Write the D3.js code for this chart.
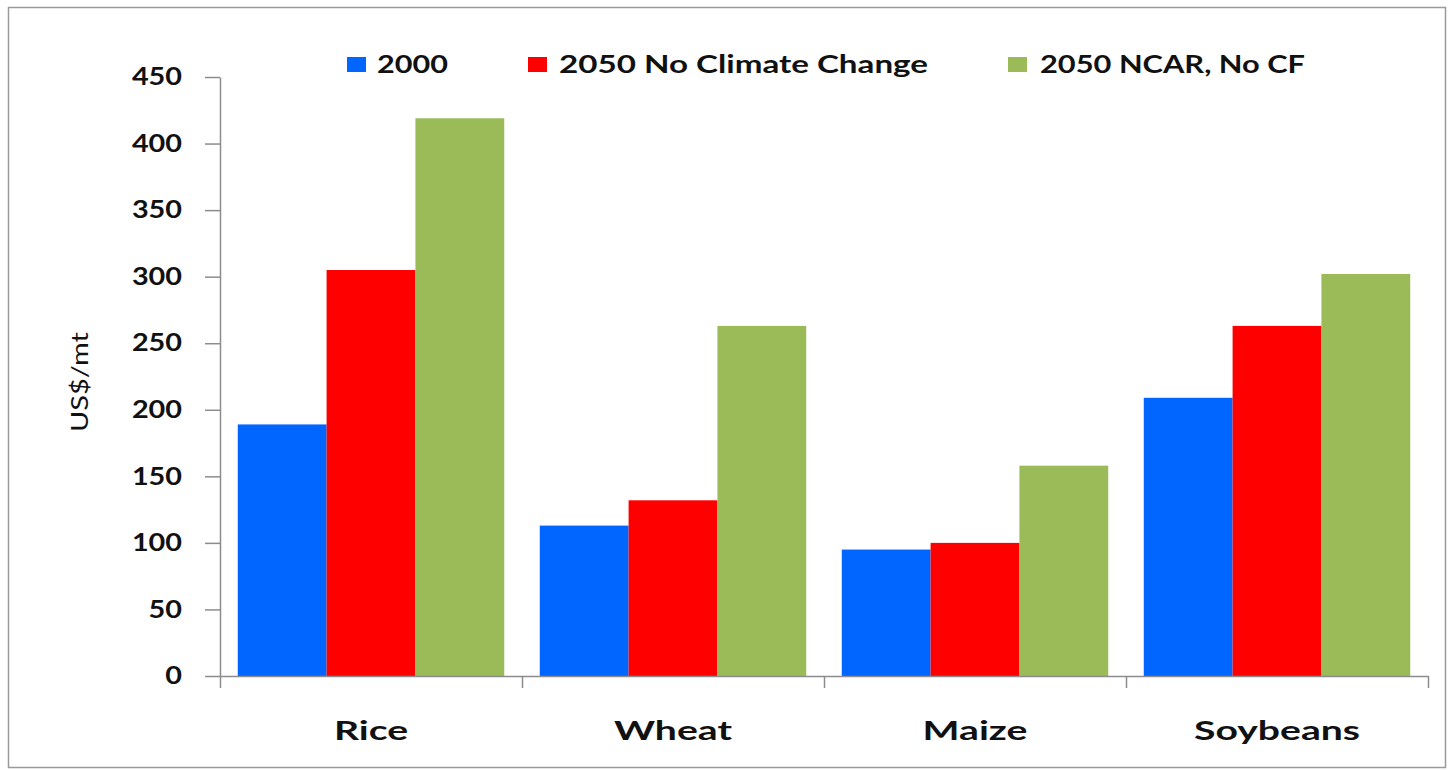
<!DOCTYPE html>
<html><head><meta charset="utf-8">
<script src="https://cdn.jsdelivr.net/npm/d3@7"></script>
<style>html,body{margin:0;padding:0;background:#fff;}svg{display:block;}</style>
</head><body>
<svg id="chart" width="1453" height="770"></svg>
<script>
const categories = ["Rice", "Wheat", "Maize", "Soybeans"];
const seriesNames = ["2000", "2050 No Climate Change", "2050 NCAR, No CF"];
const values2000 = [189, 113, 95, 209];
const valuesNoCC = [305, 132, 100, 263];
const valuesNCAR = [419, 263, 158, 302];
const yTicks = [0, 50, 100, 150, 200, 250, 300, 350, 400, 450];
const colors = ["#0066FF", "#FF0000", "#9BBB59"];
const seriesValues = [values2000, valuesNoCC, valuesNCAR];

(function(){
const svg = d3.select("#chart");
const font = "Lato, 'Open Sans', sans-serif";
const pLeft = 220, pRight = 1428, pTop = 77, pBottom = 676;
// layout of the (horizontally stretched) legend
const legendSquareX = [347, 528, 1008];
const legendTextX = [377, 559, 1040];
const legendTextW = [71, 369, 265];

svg.append("rect").attr("x", 8.5).attr("y", 7.5).attr("width", 1437).attr("height", 760)
  .attr("fill", "#fff").attr("stroke", "#9a9a9a").attr("stroke-width", 1.5);

const x0 = d3.scaleBand().domain(categories).range([pLeft, pRight]).paddingInner(0).paddingOuter(0);
const x1 = d3.scaleBand().domain(seriesNames).range([0, x0.bandwidth()]).paddingInner(0).paddingOuter(0.2);
const y = d3.scaleLinear().domain([0, 450]).range([pBottom, pTop]);
const xb = d3.scaleLinear().domain([0, categories.length]).range([pLeft, pRight]);

categories.forEach((c, ci) => {
  seriesNames.forEach((s, si) => {
    const v = seriesValues[si][ci];
    svg.append("rect")
      .attr("x", x0(c) + x1(s)).attr("width", x1.bandwidth())
      .attr("y", y(v)).attr("height", y(0) - y(v))
      .attr("fill", colors[si]);
  });
});

const ySx = 1.2;
const yAxis = svg.append("g").attr("transform", `translate(${pLeft},0)`)
  .call(d3.axisLeft(y).tickValues(yTicks).tickSize(15).tickSizeOuter(0).tickPadding(23));
yAxis.selectAll("path,line").attr("stroke", "#8c8c8c").attr("stroke-width", 1.5);
yAxis.selectAll("text").attr("font-family", font).attr("font-weight", "bold")
  .attr("font-size", 24).attr("fill", "#111")
  .attr("x", -38 / ySx).attr("transform", `scale(${ySx},1)`);

const xAxis = svg.append("g").attr("transform", `translate(0,${pBottom})`)
  .call(d3.axisBottom(xb).tickValues(d3.range(categories.length + 1)).tickSize(12).tickSizeOuter(0).tickFormat(""));
xAxis.selectAll("path,line").attr("stroke", "#8c8c8c").attr("stroke-width", 1.5);

const xSx = 1.45;
const xLab = svg.append("g").attr("transform", `translate(0,${pBottom})`)
  .call(d3.axisBottom(x0).tickSize(0));
xLab.select(".domain").remove();
xLab.selectAll("text").attr("font-family", font).attr("font-weight", "bold")
  .attr("font-size", 27).attr("fill", "#111").attr("y", 64).attr("dy", 0)
  .attr("transform", `scale(${xSx},1)`);

svg.append("text").attr("transform", "translate(88,382) rotate(-90)")
  .attr("text-anchor", "middle").attr("font-family", font).attr("font-size", 23)
  .attr("textLength", 100).attr("lengthAdjust", "spacingAndGlyphs")
  .attr("fill", "#111").text("US$/mt");

seriesNames.forEach((s, i) => {
  svg.append("rect").attr("x", legendSquareX[i]).attr("y", 57).attr("width", 19).attr("height", 15).attr("fill", colors[i]);
  svg.append("text").attr("x", legendTextX[i]).attr("y", 73)
    .attr("font-family", font).attr("font-weight", "bold").attr("font-size", 25)
    .attr("textLength", legendTextW[i]).attr("lengthAdjust", "spacingAndGlyphs")
    .attr("fill", "#111").text(s);
});
})();
</script>
</body></html>
